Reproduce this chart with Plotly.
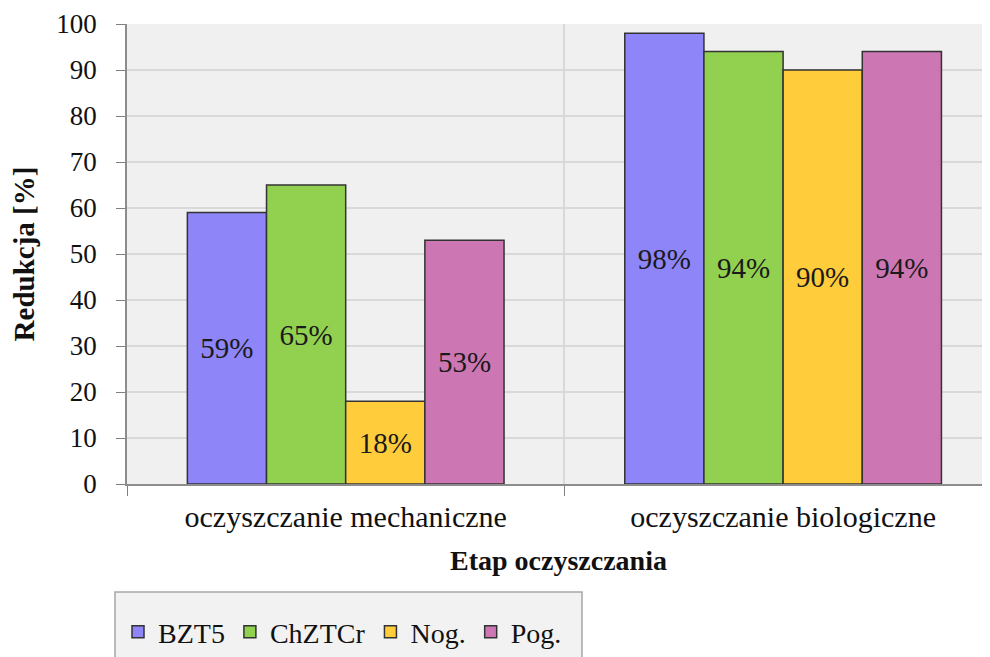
import plotly.graph_objects as go

categories = ["oczyszczanie mechaniczne", "oczyszczanie biologiczne"]
bzt5 = [59, 98]
chztcr = [65, 94]
nog = [18, 90]
pog = [53, 94]

series = [("BZT5", bzt5, "#8e85f8"), ("ChZTCr", chztcr, "#92d050"),
          ("Nog.", nog, "#ffcc3c"), ("Pog.", pog, "#cc77b4")]

FONT = "Liberation Serif, Times New Roman, serif"
# page body has an 8px margin, so the figure sits at (8, 8) in the window
OFF = 8
W, H = 990 - OFF, 657 - OFF
L, R, T, B = 127 - OFF, 0, 24 - OFF, 657 - 484
pw, ph = W - L - R, H - T - B


def px(x):
    return (x - OFF - L) / pw


def py(y):
    return (H - B - (y - OFF)) / ph


fig = go.Figure()
for name, vals, col in series:
    fig.add_trace(go.Bar(
        x=categories, y=vals, name=name,
        marker=dict(color=col, line=dict(color="#333333", width=1.5)),
        text=[f"{v}%" for v in vals], textposition="inside",
        insidetextanchor="middle", textangle=0,
        textfont=dict(family=FONT, size=29, color="#1a1a1a"),
    ))

fig.update_layout(
    width=W, height=H,
    margin=dict(l=L, r=R, t=T, b=B, autoexpand=False),
    barmode="group", bargap=0.276, bargroupgap=0,
    plot_bgcolor="#f0f0f0", paper_bgcolor="white",
    font=dict(family=FONT, size=27, color="#111111"),
    showlegend=True,
    legend=dict(orientation="h", x=px(118), y=py(632), xanchor="left", yanchor="middle",
                bgcolor="rgba(0,0,0,0)", font=dict(size=28), itemwidth=30),
    uniformtext=dict(mode="show", minsize=20),
    shapes=[dict(type="rect", xref="paper", yref="paper",
                 x0=px(115), x1=px(582), y0=py(592), y1=py(680),
                 line=dict(color="#a6a6a6", width=1.5), fillcolor="#f2f2f2", layer="below")],
)

fig.update_xaxes(
    range=[-0.5, 1.473], tickson="boundaries", ticks="outside", ticklen=10,
    tickcolor="#808080", showline=True, linecolor="#8c8c8c", linewidth=2,
    showgrid=True, gridcolor="#d9d9d9", gridwidth=1.5,
    tickfont=dict(size=30), ticklabelstandoff=5,
    title=dict(text="<b>Etap oczyszczania</b>", font=dict(size=28), standoff=18),
)
fig.update_yaxes(
    range=[0, 100], dtick=10, ticks="outside", ticklen=9, tickcolor="#808080",
    showline=True, linecolor="#8c8c8c", linewidth=1.5,
    showgrid=True, gridcolor="#d9d9d9", gridwidth=1.5, zeroline=False,
    tickfont=dict(size=27), ticklabelstandoff=14,
    title=dict(text="<b>Redukcja [%]</b>", font=dict(size=29), standoff=18),
)

fig.write_html("out.html")
